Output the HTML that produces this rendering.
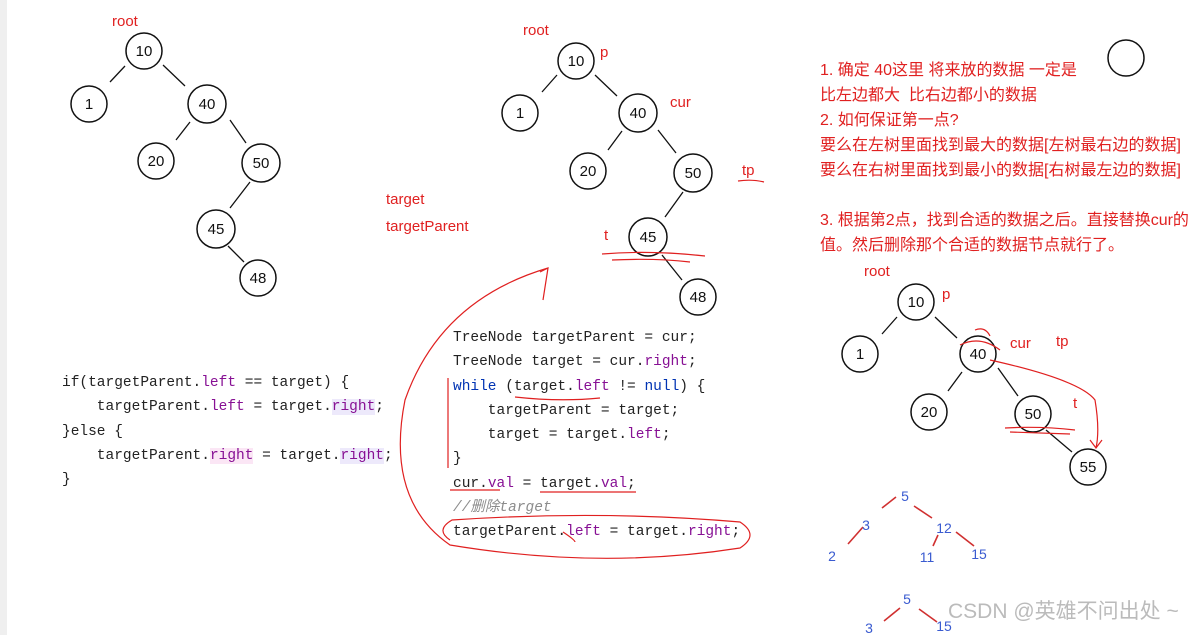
<!DOCTYPE html>
<html><head><meta charset="utf-8"><style>
body{margin:0;width:1200px;height:635px;background:#fff;overflow:hidden;position:relative}
.strip{position:absolute;left:0;top:0;width:7px;height:635px;background:#efefef}
svg{position:absolute;left:0;top:0}
.code{position:absolute;font-family:"Liberation Mono",monospace;font-size:14.5px;color:#222;white-space:pre;line-height:24.3px}
.k{color:#0033b3}.f{color:#871094}.c{color:#8c8c8c;font-style:italic}
.hl{background:#ede9fb}.hp{background:#fbe6f5}
.rt{position:absolute;font-family:"Liberation Sans","Noto Sans CJK SC",sans-serif;color:#e02020;font-size:16px;white-space:pre}
</style></head><body>
<div class="strip"></div>
<svg width="1200" height="635" font-family="Liberation Sans, sans-serif">
<g stroke="#111" stroke-width="1.3" fill="none">
<line x1="125" y1="66" x2="110" y2="82"/><line x1="163" y1="65" x2="185" y2="86"/>
<line x1="190" y1="122" x2="176" y2="140"/><line x1="230" y1="120" x2="246" y2="143"/>
<line x1="250" y1="182" x2="230" y2="208"/><line x1="228" y1="246" x2="244" y2="262"/>
<line x1="557" y1="75" x2="542" y2="92"/><line x1="595" y1="75" x2="617" y2="96"/>
<line x1="622" y1="131" x2="608" y2="150"/><line x1="658" y1="130" x2="676" y2="153"/>
<line x1="683" y1="192" x2="665" y2="217"/><line x1="662" y1="255" x2="682" y2="280"/>
<line x1="897" y1="317" x2="882" y2="334"/><line x1="935" y1="317" x2="957" y2="338"/>
<line x1="962" y1="372" x2="948" y2="391"/><line x1="998" y1="368" x2="1018" y2="396"/>
<line x1="1046" y1="430" x2="1072" y2="452"/>
</g>
<g stroke="#111" stroke-width="1.5" fill="#fff">
<circle cx="144" cy="51" r="18"/><circle cx="89" cy="104" r="18"/><circle cx="207" cy="104" r="19"/>
<circle cx="156" cy="161" r="18"/><circle cx="261" cy="163" r="19"/><circle cx="216" cy="229" r="19"/><circle cx="258" cy="278" r="18"/>
<circle cx="576" cy="61" r="18"/><circle cx="520" cy="113" r="18"/><circle cx="638" cy="113" r="19"/>
<circle cx="588" cy="171" r="18"/><circle cx="693" cy="173" r="19"/><circle cx="648" cy="237" r="19"/><circle cx="698" cy="297" r="18"/>
<circle cx="916" cy="302" r="18"/><circle cx="860" cy="354" r="18"/><circle cx="978" cy="354" r="18"/>
<circle cx="929" cy="412" r="18"/><circle cx="1033" cy="414" r="18"/><circle cx="1088" cy="467" r="18"/>
<circle cx="1126" cy="58" r="18"/>
</g>
<g font-size="15" fill="#111" text-anchor="middle">
<text x="144" y="56">10</text><text x="89" y="109">1</text><text x="207" y="109">40</text><text x="156" y="166">20</text><text x="261" y="168">50</text><text x="216" y="234">45</text><text x="258" y="283">48</text>
<text x="576" y="66">10</text><text x="520" y="118">1</text><text x="638" y="118">40</text><text x="588" y="176">20</text><text x="693" y="178">50</text><text x="648" y="242">45</text><text x="698" y="302">48</text>
<text x="916" y="307">10</text><text x="860" y="359">1</text><text x="978" y="359">40</text><text x="929" y="417">20</text><text x="1033" y="419">50</text><text x="1088" y="472">55</text>
</g>
<g font-size="15" fill="#e02020">
<text x="112" y="26">root</text><text x="523" y="35">root</text><text x="600" y="57">p</text><text x="670" y="107">cur</text><text x="742" y="175">tp</text><text x="604" y="240">t</text>
<text x="386" y="204">target</text><text x="386" y="231">targetParent</text>
<text x="864" y="276">root</text><text x="942" y="299">p</text><text x="1010" y="348">cur</text><text x="1056" y="346">tp</text><text x="1073" y="408">t</text>
</g>
<g stroke="#e02020" stroke-width="1.2" fill="none">
<path d="M738 181 Q752 179 764 182"/>
<path d="M602 254 Q650 250 705 256 M612 260 Q655 258 690 262"/>
<path d="M548 268 Q440 300 405 400 Q385 500 450 545 Q600 570 740 548 Q760 535 740 522 Q600 510 452 520 Q435 530 450 540"/>
<path d="M540 272 L548 268 L543 300"/>
<path d="M448 378 L448 468"/>
<path d="M515 397 Q560 402 600 398 M450 490 L500 490 M540 492 L636 492 M563 532 Q575 540 575 542"/>
<path d="M960 345 Q980 335 1000 350 M990 360 Q1080 380 1095 400 Q1100 430 1096 448 M1090 440 L1096 448 L1102 440"/>
<path d="M1005 428 Q1040 426 1075 430 M1010 432 L1070 434"/>
<path d="M975 330 Q985 326 990 336"/>
</g>
<g stroke="#d03030" stroke-width="1.6">
<line x1="896" y1="497" x2="882" y2="508"/><line x1="914" y1="506" x2="932" y2="518"/>
<line x1="863" y1="527" x2="848" y2="544"/><line x1="938" y1="535" x2="933" y2="546"/><line x1="956" y1="532" x2="974" y2="546"/>
<line x1="900" y1="608" x2="884" y2="621"/><line x1="919" y1="609" x2="937" y2="622"/>
</g>
<g font-size="14" fill="#3a5bd0" text-anchor="middle">
<text x="905" y="501">5</text><text x="866" y="530">3</text><text x="944" y="533">12</text><text x="832" y="561">2</text><text x="927" y="562">11</text><text x="979" y="559">15</text>
<text x="907" y="604">5</text><text x="869" y="633">3</text><text x="944" y="631">15</text>
</g>
<text x="948" y="618" font-size="21" fill="#bbb" font-family="Liberation Sans, Noto Sans CJK SC, sans-serif">CSDN @英雄不问出处 ~</text>
</svg>
<div class="rt" style="left:820px;top:58px;line-height:25px">1. 确定 40这里 将来放的数据 一定是
比左边都大  比右边都小的数据
2. 如何保证第一点?
要么在左树里面找到最大的数据[左树最右边的数据]
要么在右树里面找到最小的数据[右树最左边的数据]</div>
<div class="rt" style="left:820px;top:208px;line-height:25px">3. 根据第2点，找到合适的数据之后。直接替换cur的
值。然后删除那个合适的数据节点就行了。</div>
<div class="code" style="left:62px;top:371px">if(targetParent.<span class="f">left</span> == target) {
    targetParent.<span class="f">left</span> = target.<span class="f hl">right</span>;
}else {
    targetParent.<span class="f hp">right</span> = target.<span class="f hl">right</span>;
}</div>
<div class="code" style="left:453px;top:326px">TreeNode targetParent = cur;
TreeNode target = cur.<span class="f">right</span>;
<span class="k">while</span> (target.<span class="f">left</span> != <span class="k">null</span>) {
    targetParent = target;
    target = target.<span class="f">left</span>;
}
cur.<span class="f">val</span> = target.<span class="f">val</span>;
<span class="c">//删除target</span>
targetParent.<span class="f">left</span> = target.<span class="f">right</span>;</div>
</body></html>
